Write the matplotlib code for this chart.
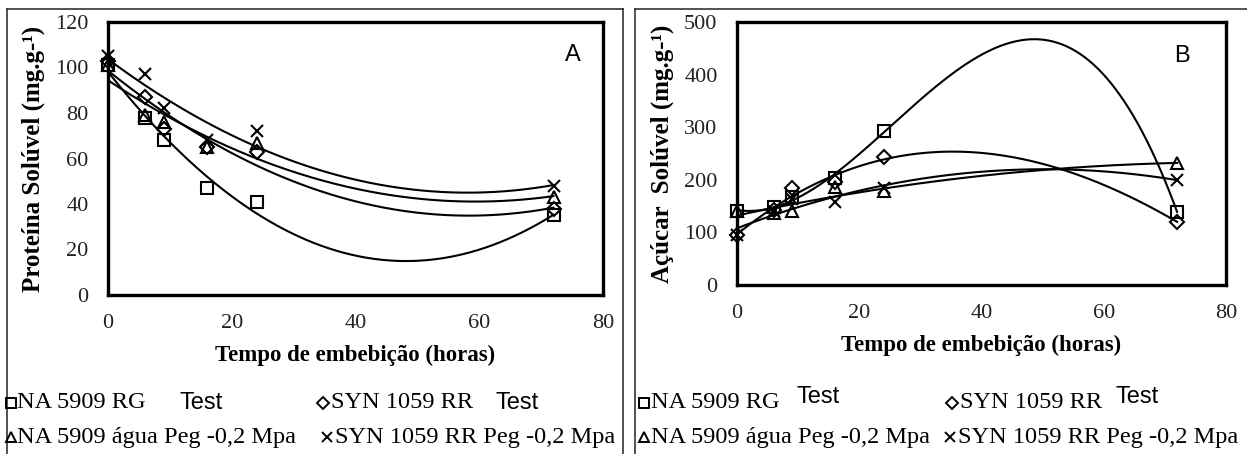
import numpy as np
import matplotlib
matplotlib.use("Agg")
import matplotlib.pyplot as plt
from matplotlib.lines import Line2D

# ---------------- data ----------------
hours = [0, 6, 9, 16, 24, 72]

prot_na_test = [101, 78, 68, 47, 41, 35]
prot_syn_test = [103, 87, 73, 65, 63, 38]
prot_na_peg = [101, 79, 76, 65, 67, 43]
prot_syn_peg = [105, 97, 82, 68, 72, 48]

acu_na_test = [141, 148, 167, 203, 293, 139]
acu_syn_test = [95, 142, 184, 196, 243, 120]
acu_na_peg = [141, 137, 141, 186, 179, 232]
acu_syn_peg = [95, 140, 164, 158, 185, 200]

x_ticks = [0, 20, 40, 60, 80]
prot_ticks = [0, 20, 40, 60, 80, 100, 120]
acu_ticks = [0, 100, 200, 300, 400, 500]

markers = ["s", "D", "^", "x"]
leg_names = ["NA 5909 RG", "SYN 1059 RR", "NA 5909 água Peg -0,2 Mpa", "SYN 1059 RR Peg -0,2 Mpa"]

SERIF = ["Liberation Serif", "DejaVu Serif"]
SANS = ["Liberation Sans", "DejaVu Sans"]

W, H = 1247, 454
fig = plt.figure(figsize=(W / 100, H / 100), dpi=100)


def fx(px):
    return px / W


def fy(py):
    return 1 - py / H


def panel(rect, series, degree, yticks, ylabel, letter, letter_xy):
    ax = fig.add_axes(rect)
    xs = np.linspace(0, 72, 300)
    for vals, m, deg in zip(series, markers, degree):
        coef = np.polyfit(hours, vals, deg)
        ax.plot(xs, np.polyval(coef, xs), color="black", lw=1.5, zorder=2)
        ms = 9 if m != "D" else 7.5
        ax.plot(hours, vals, linestyle="none", marker=m, markersize=ms,
                markerfacecolor="none", markeredgecolor="black",
                markeredgewidth=1.5, zorder=3, clip_on=False)
    ax.set_xlim(0, 80)
    ax.set_ylim(yticks[0], yticks[-1])
    ax.set_xticks(x_ticks)
    ax.set_yticks(yticks)
    ax.tick_params(length=0, labelsize=16, pad=14)
    for lab in ax.get_xticklabels() + ax.get_yticklabels():
        lab.set_family(SERIF)
        lab.set_color("#222222")
    for sp in ax.spines.values():
        sp.set_linewidth(2.4)
        sp.set_color("black")
    ax.set_xlabel("Tempo de embebição (horas)", family=SERIF, fontweight="bold",
                  fontsize=16.5, labelpad=8)
    ax.set_ylabel(ylabel, family=SERIF, fontweight="bold", fontsize=18, labelpad=4)
    ax.text(letter_xy[0], letter_xy[1], letter, transform=ax.transAxes,
            family=SANS, fontsize=17, ha="center", va="center")
    return ax


axA = panel([fx(108), fy(295), (603 - 108) / W, (295 - 22) / H],
            [prot_na_test, prot_syn_test, prot_na_peg, prot_syn_peg],
            [2, 2, 2, 2], prot_ticks, "Proteína Solúvel (mg.g-¹)", "A", (0.94, 0.88))
axB = panel([fx(737), fy(285), (1226 - 737) / W, (285 - 22) / H],
            [acu_na_test, acu_syn_test, acu_na_peg, acu_syn_peg],
            [3, 3, 2, 2], acu_ticks, "Açúcar  Solúvel (mg.g-¹)", "B", (0.91, 0.87))
# y-label centres (pixels from the left edge of the figure)
axA.yaxis.set_label_coords((33 - 108) / (603 - 108), 0.5)
axB.yaxis.set_label_coords((662 - 737) / (1226 - 737), 0.5)
axA.yaxis.label.set_va("center")
axB.yaxis.label.set_va("center")

# ---------------- outer frames ----------------
for x0, x1 in [(7, 623), (635, 1247)]:
    fig.add_artist(Line2D([fx(x0), fx(x0)], [fy(9), fy(454)], color="#333333", lw=1.2))
    fig.add_artist(Line2D([fx(x0), fx(x1)], [fy(9), fy(9)], color="#333333", lw=1.2))
fig.add_artist(Line2D([fx(623), fx(623)], [fy(9), fy(454)], color="#333333", lw=1.2))

# ---------------- legends ----------------
def legend_item(mx, my, marker, text_x, text, test_x=None, test_dy=0):
    ms = 7 if marker != "D" else 6
    fig.add_artist(Line2D([fx(mx)], [fy(my)], marker=marker, markersize=ms,
                          markerfacecolor="none", markeredgecolor="black",
                          markeredgewidth=1.4, linestyle="none"))
    fig.text(fx(text_x), fy(my), text, family=SERIF, fontsize=17.6,
             ha="left", va="center")
    if test_x is not None:
        fig.text(fx(test_x), fy(my + test_dy), "Test", family=SANS, fontsize=17,
                 ha="left", va="center")


row1, row2 = 403, 437
# panel A legend
legend_item(11, row1, markers[0], 17, leg_names[0], 180)
legend_item(323, row1, markers[1], 331, leg_names[1], 496)
legend_item(11, row2, markers[2], 17, leg_names[2])
legend_item(327, row2, markers[3], 335, leg_names[3])
# panel B legend
legend_item(644, row1, markers[0], 651, leg_names[0], 796, -6)
legend_item(952, row1, markers[1], 960, leg_names[1], 1116, -6)
legend_item(644, row2, markers[2], 651, leg_names[2])
legend_item(950, row2, markers[3], 958, leg_names[3])

fig.savefig("out.png", dpi=100)
